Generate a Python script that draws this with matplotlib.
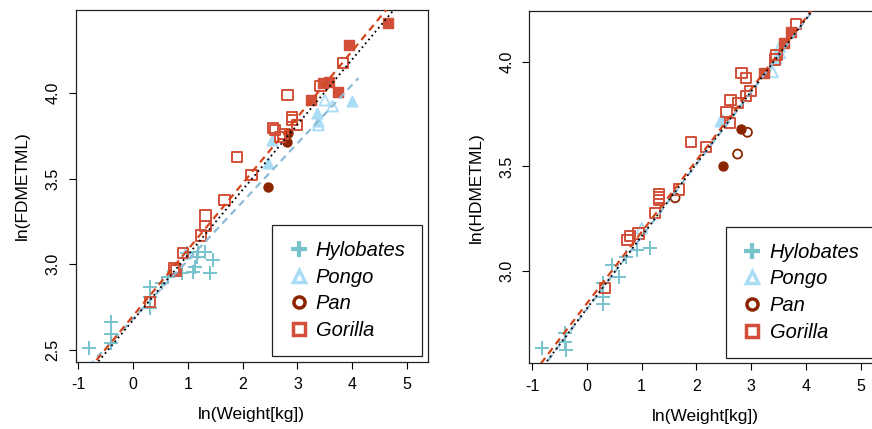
import matplotlib
matplotlib.use("Agg")
import matplotlib.pyplot as plt
from matplotlib.lines import Line2D
import numpy as np

plt.rcParams.update({
    "font.family": ["Liberation Sans", "DejaVu Sans"],
    "font.size": 11.5,
})

# ── Colours ───────────────────────────────────────────────────────────────────
C_HYLO = "#78c2cc"
C_PONGO = "#a9dcf5"
C_PAN = "#8b2500"
C_GOR = "#d2503a"
C_RED_LINE = "#d4451a"
C_BLUE_LINE = "#8bbbd6"

# ── Data: left panel, ln(FDMETML) ─────────────────────────────────────────────
hylo_x_fd = [-0.80, -0.40, -0.40, -0.40, 0.30, 0.30, 0.30, 0.52, 0.64, 0.89,
             1.09, 1.13, 1.16, 1.19, 1.31, 1.45, 1.40, 0.98]
hylo_y_fd = [2.51, 2.667, 2.595, 2.54, 2.869, 2.81, 2.743, 2.889, 2.927, 2.947,
             2.956, 2.985, 3.044, 3.073, 3.073, 3.024, 2.947, 3.064]

pongo_fill_x_fd = [2.53, 2.46, 3.36, 3.99, 3.38]
pongo_fill_y_fd = [3.724, 3.592, 3.88, 3.953, 3.835]
pongo_open_x_fd = [3.50, 3.64, 3.38, 0.97]
pongo_open_y_fd = [3.957, 3.922, 3.812, 3.067]

pan_fill_x_fd = [2.82, 2.81, 2.47]
pan_fill_y_fd = [3.767, 3.711, 3.448]

gor_fill_x_fd = [4.66, 3.94, 3.58, 3.47, 3.73, 3.25]
gor_fill_y_fd = [4.408, 4.278, 4.064, 4.055, 4.004, 3.959]
gor_open_x_fd = [3.83, 3.42, 2.82, 2.905, 2.905, 2.985, 2.55, 2.59, 2.73, 2.68,
                 1.90, 2.16, 1.67, 1.32, 1.32, 1.245, 0.905, 0.75, 0.78, 0.31]
gor_open_y_fd = [4.173, 4.041, 3.987, 3.857, 3.843, 3.813, 3.796, 3.782, 3.759, 3.743,
                 3.625, 3.52, 3.374, 3.284, 3.223, 3.168, 3.067, 2.976, 2.965, 2.781]

# fitted lines: (intercept, slope, x_start, x_end)
fit_gor_fd = (2.700, 0.386, -0.81, 4.66)
fit_all_fd = (2.675, 0.380, -0.81, 4.75)
fit_pongo_fd = (2.683, 0.341, -0.81, 4.11)

# ── Data: right panel, ln(HDMETML) ────────────────────────────────────────────
hylo_x_hd = [-0.82, -0.39, -0.39, -0.38, 0.30, 0.30, 0.30, 0.46, 0.58, 0.72, 0.91, 1.15]
hylo_y_hd = [2.634, 2.702, 2.662, 2.623, 2.944, 2.877, 2.842, 3.029, 2.97, 3.065, 3.10, 3.111]

pongo_fill_x_hd = [3.46, 2.47, 2.43]
pongo_fill_y_hd = [4.02, 3.725, 3.715]
pongo_open_x_hd = [3.39, 3.52, 3.52, 1.00]
pongo_open_y_hd = [3.952, 4.072, 4.043, 3.204]

pan_fill_x_hd = [2.82, 2.48]
pan_fill_y_hd = [3.677, 3.50]
pan_open_x_hd = [2.75, 2.93, 1.61]
pan_open_y_hd = [3.559, 3.663, 3.35]

gor_fill_x_hd = [3.73, 3.59, 3.23]
gor_fill_y_hd = [4.143, 4.091, 3.947]
gor_open_x_hd = [3.82, 3.46, 3.43, 2.82, 2.90, 2.985, 2.90, 2.62, 2.76, 2.55, 2.61,
                 1.90, 2.17, 1.68, 1.32, 1.32, 1.32, 1.24, 0.94, 0.79, 0.74, 0.33]
gor_open_y_hd = [4.18, 4.032, 4.011, 3.947, 3.921, 3.86, 3.836, 3.817, 3.804, 3.761, 3.709,
                 3.618, 3.594, 3.39, 3.368, 3.352, 3.339, 3.276, 3.18, 3.167, 3.148, 2.92]

fit_gor_hd = (2.845, 0.3417, -0.84, 4.66)
fit_all_hd = (2.821, 0.346, -0.84, 4.66)
fit_pongo_hd = (2.818, 0.346, -0.84, 4.66)

x_ticks = [-1, 0, 1, 2, 3, 4, 5]
y_ticks_fd = [2.5, 3.0, 3.5, 4.0]
y_ticks_hd = [3.0, 3.5, 4.0]

species = ["Hylobates", "Pongo", "Pan", "Gorilla"]

# ── Helpers ───────────────────────────────────────────────────────────────────

def draw_points(ax, d):
    ax.scatter(d["hylo"][0], d["hylo"][1], marker="+", s=110, c=C_HYLO,
               linewidths=1.4, zorder=3)
    if d.get("pongo_open"):
        ax.scatter(*d["pongo_open"], marker="^", s=60, facecolors="none",
                   edgecolors=C_PONGO, linewidths=1.3, zorder=3)
    ax.scatter(*d["pongo_fill"], marker="^", s=60, c=C_PONGO, zorder=3)
    if d.get("pan_open"):
        ax.scatter(*d["pan_open"], marker="o", s=42, facecolors="none",
                   edgecolors=C_PAN, linewidths=1.3, zorder=3)
    ax.scatter(*d["pan_fill"], marker="o", s=42, c=C_PAN, zorder=3)
    ax.scatter(*d["gor_open"], marker="s", s=55, facecolors="none",
               edgecolors=C_GOR, linewidths=1.4, zorder=3)
    ax.scatter(*d["gor_fill"], marker="s", s=55, c=C_GOR, zorder=3)


def draw_fit(ax, fit, **kw):
    a, b, x0, x1 = fit
    xs = np.array([x0, x1])
    ax.plot(xs, a + b * xs, zorder=4, **kw)


def style_axes(ax, yticks, ylabel, ylim):
    ax.set_xlim(-1.047, 5.376)
    ax.set_ylim(*ylim)
    ax.set_xticks(x_ticks)
    ax.set_xticklabels([str(v) for v in x_ticks])
    ax.set_yticks(yticks)
    ax.set_yticklabels([f"{v:.1f}" for v in yticks], rotation=90, va="center")
    ax.tick_params(direction="out", length=5, width=0.8, pad=6, labelsize=11.5)
    for sp in ax.spines.values():
        sp.set_linewidth(0.9)
        sp.set_color("#222222")
    ax.set_xlabel("ln(Weight[kg])", fontsize=12.5, labelpad=11)
    ax.set_ylabel(ylabel, fontsize=12.5, labelpad=11)

    handles = [
        Line2D([], [], ls="none", marker="+", ms=11, mew=3, color=C_HYLO),
        Line2D([], [], ls="none", marker="^", ms=9, mew=2.5, mfc="white", mec=C_PONGO),
        Line2D([], [], ls="none", marker="o", ms=8, mew=2.5, mfc="white", mec=C_PAN),
        Line2D([], [], ls="none", marker="s", ms=8, mew=2.5, mfc="white", mec=C_GOR),
    ]
    leg = ax.legend(handles, species, loc="lower right", bbox_to_anchor=(0.983, 0.016),
                    borderaxespad=0, fancybox=False, framealpha=1, edgecolor="#222222",
                    prop={"style": "italic", "size": 14.5}, borderpad=0.8,
                    labelspacing=0.38, handlelength=1.0, handletextpad=0.35)
    leg.get_frame().set_linewidth(0.9)


# ── Figure ────────────────────────────────────────────────────────────────────

fig = plt.figure(figsize=(8.72, 4.29), dpi=100)
ax1 = fig.add_axes([0.0868, 0.1569, 0.4037, 0.8198])
ax2 = fig.add_axes([0.6072, 0.1531, 0.4037, 0.8205])

draw_points(ax1, {
    "hylo": (hylo_x_fd, hylo_y_fd),
    "pongo_fill": (pongo_fill_x_fd, pongo_fill_y_fd),
    "pongo_open": (pongo_open_x_fd, pongo_open_y_fd),
    "pan_fill": (pan_fill_x_fd, pan_fill_y_fd),
    "gor_fill": (gor_fill_x_fd, gor_fill_y_fd),
    "gor_open": (gor_open_x_fd, gor_open_y_fd),
})
draw_fit(ax1, fit_pongo_fd, color=C_BLUE_LINE, lw=1.6, ls=(0, (3.2, 2.3)))
draw_fit(ax1, fit_gor_fd, color=C_RED_LINE, lw=1.6, ls=(0, (3.2, 2.3)))
draw_fit(ax1, fit_all_fd, color="black", lw=1.3, ls=(0, (1, 1.8)))
style_axes(ax1, y_ticks_fd, "ln(FDMETML)", (2.433, 4.482))

draw_points(ax2, {
    "hylo": (hylo_x_hd, hylo_y_hd),
    "pongo_fill": (pongo_fill_x_hd, pongo_fill_y_hd),
    "pongo_open": (pongo_open_x_hd, pongo_open_y_hd),
    "pan_fill": (pan_fill_x_hd, pan_fill_y_hd),
    "pan_open": (pan_open_x_hd, pan_open_y_hd),
    "gor_fill": (gor_fill_x_hd, gor_fill_y_hd),
    "gor_open": (gor_open_x_hd, gor_open_y_hd),
})
draw_fit(ax2, fit_gor_hd, color=C_RED_LINE, lw=1.6, ls=(0, (3.2, 2.3)))
draw_fit(ax2, fit_pongo_hd, color=C_BLUE_LINE, lw=1.6, ls=(0, (3.2, 2.3)))
draw_fit(ax2, fit_all_hd, color="black", lw=1.3, ls=(0, (1, 1.8)))
style_axes(ax2, y_ticks_hd, "ln(HDMETML)", (2.559, 4.241))

fig.savefig("out.png", dpi=100)
